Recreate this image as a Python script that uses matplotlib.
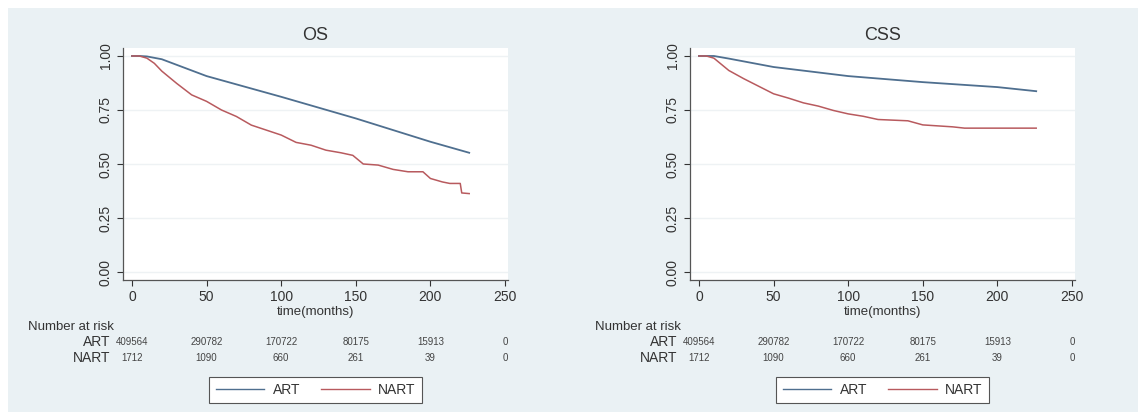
import matplotlib
matplotlib.use('Agg')
import matplotlib.pyplot as plt
from matplotlib.patches import Rectangle

plt.rcParams['font.family'] = ['Liberation Sans', 'DejaVu Sans']

# OS curves (months, survival)
os_art_t = [0, 5, 10, 20, 50, 100, 150, 200, 226]
os_art_s = [1.0, 1.0, 0.998, 0.985, 0.907, 0.811, 0.711, 0.603, 0.552]
os_nart_t = [0, 5, 10, 15, 20, 30, 40, 50, 60, 70, 80, 90, 100, 110, 120, 130, 140, 148,
             155, 165, 175, 185, 195, 200, 208, 213, 220, 221, 226]
os_nart_s = [1.0, 1.0, 0.99, 0.966, 0.93, 0.873, 0.82, 0.79, 0.75, 0.72, 0.68, 0.657, 0.634,
             0.60, 0.587, 0.564, 0.552, 0.54, 0.50, 0.495, 0.475, 0.464, 0.464, 0.433, 0.417,
             0.41, 0.41, 0.366, 0.363]

# CSS curves
css_art_t = [0, 5, 10, 20, 50, 100, 150, 200, 226]
css_art_s = [1.0, 1.0, 1.0, 0.988, 0.949, 0.907, 0.879, 0.856, 0.837]
css_nart_t = [0, 5, 10, 20, 30, 40, 50, 60, 70, 80, 90, 100, 110, 120, 140, 150, 170, 178, 226]
css_nart_s = [1.0, 1.0, 0.99, 0.933, 0.895, 0.86, 0.825, 0.805, 0.783, 0.768, 0.748, 0.732,
              0.721, 0.706, 0.70, 0.681, 0.672, 0.666, 0.666]

# number at risk
risk_times = [0, 50, 100, 150, 200, 250]
risk_art = ['409564', '290782', '170722', '80175', '15913', '0']
risk_nart = ['1712', '1090', '660', '261', '39', '0']

x_ticks = [0, 50, 100, 150, 200, 250]
y_ticks = [0.0, 0.25, 0.5, 0.75, 1.0]
y_labels = ['0.00', '0.25', '0.50', '0.75', '1.00']

ART_COLOR = '#4f6f8f'
NART_COLOR = '#b85a5e'
BG = '#eaf1f4'
TXT = '#333333'

W, H = 1144, 416
fig = plt.figure(figsize=(W / 100, H / 100), dpi=100)
fig.patch.set_facecolor('white')
fig.add_artist(Rectangle((8 / W, 1 - 412 / H), 1130 / W, 404 / H,
                         transform=fig.transFigure, facecolor=BG, edgecolor='none', zorder=0))


def panel(left_px, title, art_t, art_s, nart_t, nart_s):
    ax = fig.add_axes([left_px / W, 1 - 280 / H, 385 / W, 232 / H])
    ax.set_facecolor('white')
    ax.plot(art_t, art_s, color=ART_COLOR, lw=1.3)
    ax.plot(nart_t, nart_s, color=NART_COLOR, lw=1.1)
    ax.set_xlim(-6, 252)
    ax.set_ylim(-0.037, 1.037)
    ax.set_xticks(x_ticks)
    ax.set_yticks(y_ticks)
    ax.set_yticklabels(y_labels, rotation=90, va='center')
    ax.tick_params(labelsize=10, colors=TXT, length=4, width=0.8)
    for s in ['top', 'right']:
        ax.spines[s].set_visible(False)
    for s in ['left', 'bottom']:
        ax.spines[s].set_color('#555555')
        ax.spines[s].set_linewidth(0.9)
    ax.grid(axis='y', color='#eef2f4', lw=1.0)
    ax.set_axisbelow(True)
    ax.set_title(title, fontsize=13, color=TXT, pad=6)
    ax.set_xlabel('time(months)', fontsize=9.5, color=TXT, labelpad=1)

    # number at risk table
    fig.text((left_px - 95) / W, 1 - 327 / H, 'Number at risk', fontsize=9.5,
             color=TXT, va='center', ha='left')
    fig.text((left_px - 13) / W, 1 - 342 / H, 'ART', fontsize=10, color=TXT,
             va='center', ha='right')
    fig.text((left_px - 13) / W, 1 - 358 / H, 'NART', fontsize=10, color=TXT,
             va='center', ha='right')
    y_art = -(342 - 272) / 216
    y_nart = -(358 - 272) / 216
    for t, a, n in zip(risk_times, risk_art, risk_nart):
        ax.text(t, y_art, a, fontsize=7, color='#444444', ha='center', va='center',
                clip_on=False)
        ax.text(t, y_nart, n, fontsize=7, color='#444444', ha='center', va='center',
                clip_on=False)

    h1, = ax.plot([], [], color=ART_COLOR, lw=1.0, label='ART')
    h2, = ax.plot([], [], color=NART_COLOR, lw=1.0, label='NART')
    leg = ax.legend(handles=[h1, h2], ncol=2, loc='center',
                    bbox_to_anchor=(0.5, (280 - 390) / 232),
                    bbox_transform=ax.transAxes, fontsize=10, frameon=True,
                    fancybox=False, edgecolor='#555555', facecolor='white',
                    framealpha=1, handlelength=3.5, handletextpad=0.6,
                    columnspacing=1.5, borderpad=0.45, borderaxespad=0)
    leg.get_frame().set_linewidth(0.8)
    for t in leg.get_texts():
        t.set_color(TXT)
    return ax


ax1 = panel(123, 'OS', os_art_t, os_art_s, os_nart_t, os_nart_s)
ax2 = panel(690, 'CSS', css_art_t, css_art_s, css_nart_t, css_nart_s)

fig.savefig('out.png', dpi=100)
